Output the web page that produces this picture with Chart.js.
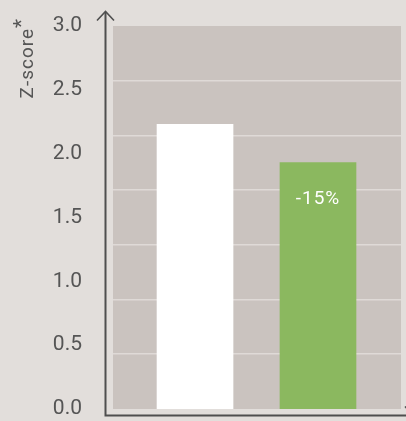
<!DOCTYPE html>
<html>
<head>
<meta charset="utf-8">
<script src="https://cdn.jsdelivr.net/npm/chart.js@4"></script>
<style>
  html, body { margin: 0; padding: 0; background: #e2dedb; }
  #wrap { width: 406px; height: 421px; }
</style>
</head>
<body>
<div id="wrap"><canvas id="c" width="406" height="421"></canvas></div>
<script>
// ---- data ----
const positions = [1, 2];            // bar slots (no category labels shown)
const zScores = [2.23, 1.93];        // Z-score values
const barColors = ['#ffffff', '#8bb85f'];
const barLabels = ['', '-15%'];      // text drawn inside bars
const yTicks = [0, 0.5, 1, 1.5, 2, 2.5, 3];
const axisTitle = 'Z-score';
const axisTitleMark = '*';

const BG = '#e2dedb';
const PLOT_BG = '#cac3bf';
const INK = '#555555';

const decor = {
  id: 'decor',
  beforeDraw(chart) {
    const { ctx, chartArea: a } = chart;
    ctx.save();
    ctx.fillStyle = BG;
    ctx.fillRect(0, 0, chart.width, chart.height);
    ctx.fillStyle = PLOT_BG;
    ctx.fillRect(a.left, a.top, a.right - a.left, a.bottom - a.top);
    ctx.restore();
  },
  afterDraw(chart) {
    const { ctx, chartArea: a } = chart;
    ctx.save();
    // axes with arrows
    const ax = a.left - 7.5, ay = a.bottom + 6.5;
    ctx.strokeStyle = '#4f4f4f';
    ctx.lineWidth = 2;
    ctx.beginPath();
    ctx.moveTo(ax, a.top - 14);
    ctx.lineTo(ax, ay + 1);
    ctx.moveTo(ax - 1, ay);
    ctx.lineTo(chart.width + 10, ay);
    ctx.stroke();
    ctx.lineWidth = 1.6;
    ctx.beginPath();
    ctx.moveTo(ax - 8.5, a.top - 5.5);
    ctx.lineTo(ax, a.top - 14.5);
    ctx.lineTo(ax + 8.5, a.top - 5.5);
    ctx.stroke();
    const tipX = a.right + 13;
    ctx.beginPath();
    ctx.moveTo(tipX - 9, ay - 9);
    ctx.lineTo(tipX, ay);
    ctx.lineTo(tipX - 9, ay + 9);
    ctx.stroke();

    // axis title (rotated)
    ctx.fillStyle = INK;
    ctx.translate(33, 98.5);
    ctx.rotate(-Math.PI / 2);
    ctx.font = '19px Roboto';
    ctx.letterSpacing = '1px';
    ctx.textAlign = 'left';
    ctx.textBaseline = 'alphabetic';
    ctx.fillText(axisTitle, 0, 0);
    const w = ctx.measureText(axisTitle).width;
    ctx.font = '21px Roboto';
    ctx.fillText(axisTitleMark, w, -5);
    ctx.restore();

    // bar value labels
    const meta = chart.getDatasetMeta(0);
    ctx.save();
    ctx.fillStyle = '#ffffff';
    ctx.font = '19px Roboto';
    ctx.letterSpacing = '1px';
    ctx.textAlign = 'center';
    ctx.textBaseline = 'middle';
    meta.data.forEach((bar, i) => {
      if (barLabels[i]) ctx.fillText(barLabels[i], bar.x, bar.y + 36.5);
    });
    ctx.restore();
  }
};

new Chart(document.getElementById('c'), {
  type: 'bar',
  data: {
    datasets: [{
      data: positions.map((p, i) => ({ x: p, y: zScores[i] })),
      backgroundColor: barColors,
      borderWidth: 0,
      barThickness: 76
    }]
  },
  options: {
    responsive: false,
    devicePixelRatio: 1,
    animation: false,
    layout: { padding: { top: 26, bottom: 12, right: 5, left: 0 } },
    plugins: { legend: { display: false }, tooltip: { enabled: false } },
    scales: {
      x: {
        type: 'linear',
        display: false,
        offset: false,
        min: 0.333,
        max: 2.675
      },
      y: {
        position: 'left',
        min: 0,
        max: 3,
        afterBuildTicks: (s) => { s.ticks = yTicks.map(v => ({ value: v })); },
        ticks: {
          color: INK,
          font: { family: 'Roboto', size: 21 },
          padding: 31,
          callback: (v) => Number(v).toFixed(1)
        },
        grid: { display: false, drawTicks: false },
        border: { display: false },
        afterFit: (s) => { s.width = 113; s.paddingTop = 0; s.paddingBottom = 0; }
      },
      yGrid: {
        position: 'right',
        min: 0,
        max: 7,
        ticks: { display: false, stepSize: 1 },
        grid: {
          drawTicks: false,
          lineWidth: 1.6,
          color: (c) => (c.tick && (c.tick.value === 0 || c.tick.value === 7)) ? 'rgba(0,0,0,0)' : '#dfdad7'
        },
        border: { display: false },
        afterFit: (s) => { s.width = 0; s.paddingTop = 0; s.paddingBottom = 0; }
      }
    }
  },
  plugins: [decor]
});
</script>
</body>
</html>
